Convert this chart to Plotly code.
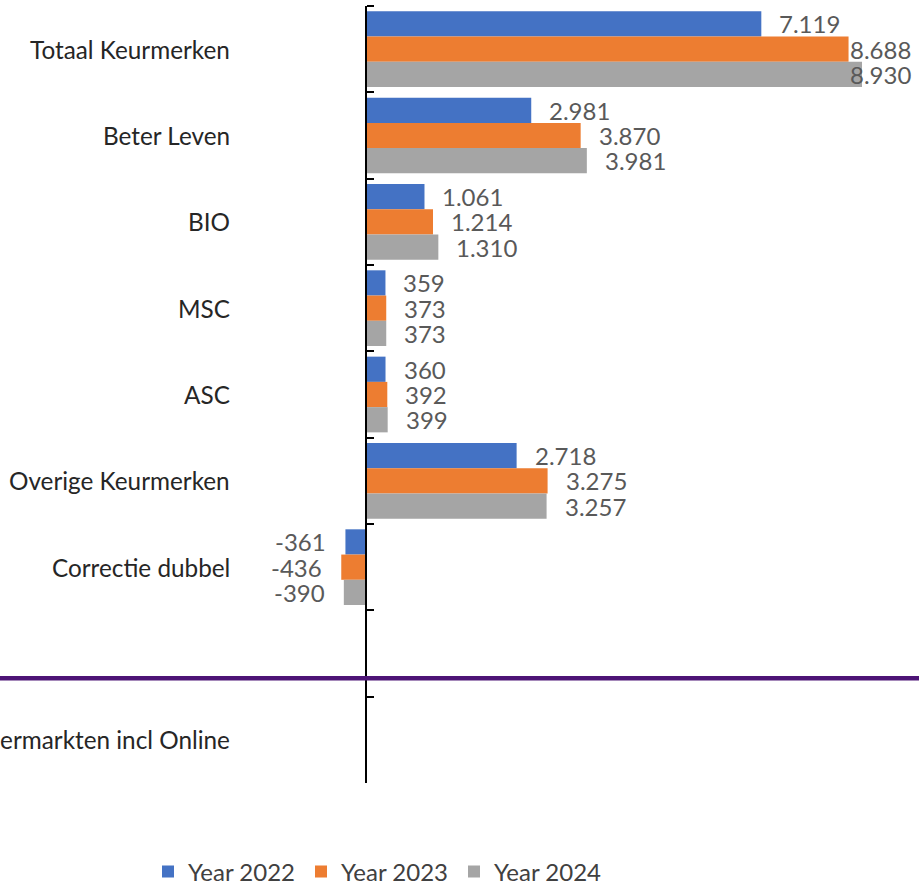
import plotly.graph_objects as go

categories = ["Totaal Keurmerken", "Beter Leven", "BIO", "MSC", "ASC",
              "Overige Keurmerken", "Correctie dubbel", " ", "Supermarkten incl Online"]
series_names = ["Year 2022", "Year 2023", "Year 2024"]
values_2022 = [7119, 2981, 1061, 359, 360, 2718, -361, None, None]
values_2023 = [8688, 3870, 1214, 373, 392, 3275, -436, None, None]
values_2024 = [8930, 3981, 1310, 373, 399, 3257, -390, None, None]
series_values = [values_2022, values_2023, values_2024]
colors = ["#4472C4", "#ED7D31", "#A5A5A5"]

W, H = 919, 885
L, R, T, B = 235, 0, 6, 102
plot_w = W - L - R
plot_h = H - T - B
px_per_unit = 0.0556
zero_px = 365.5
x_min = (L - zero_px) / px_per_unit
x_max = (W - R - zero_px) / px_per_unit
bargap = 0.123
n_cat = len(categories)
slot_px = plot_h / n_cat
bar_px = slot_px * (1 - bargap) / len(series_names)

FONT = "Lato"
LABEL_FONT = dict(family=FONT, size=24, color="#595959")


def fmt(v):
    return f"{v:,}".replace(",", ".")


fig = go.Figure()
for name, vals, col in zip(series_names, series_values, colors):
    fig.add_trace(go.Bar(
        y=categories, x=vals, name=name, orientation="h",
        marker=dict(color=col, line=dict(width=0)),
    ))

annotations = []
# category labels (left of plot area)
for cat in categories:
    annotations.append(dict(x=0, y=cat, xref="paper", yref="y", text=cat,
                            xanchor="right", xshift=-3, showarrow=False,
                            font=dict(family=FONT, size=24.3, color="#262626")))

# data labels
label_right_limit = (913 - zero_px) / px_per_unit
for i, vals in enumerate(series_values):
    yshift = (1 - i) * bar_px
    for cat, v in zip(categories, vals):
        if v is None:
            continue
        txt = fmt(v)
        est_w = len(txt) * 12.6
        if v < 0:
            annotations.append(dict(x=v, y=cat, xref="x", yref="y", text=txt,
                                    xanchor="right", xshift=-17, yshift=yshift,
                                    showarrow=False, font=LABEL_FONT))
        else:
            end_px = zero_px + v * px_per_unit + 15 + est_w
            if end_px > 913:
                annotations.append(dict(x=label_right_limit, y=cat, xref="x", yref="y",
                                        text=txt, xanchor="right", yshift=yshift,
                                        showarrow=False, font=LABEL_FONT))
            else:
                annotations.append(dict(x=v, y=cat, xref="x", yref="y", text=txt,
                                        xanchor="left", xshift=16, yshift=yshift,
                                        showarrow=False, font=LABEL_FONT))

p0 = (0 - x_min) / (x_max - x_min)
line_y = 1 - (678.3 - T) / plot_h

fig.update_layout(
    width=W, height=H,
    margin=dict(l=L, r=R, t=T, b=B, autoexpand=False),
    paper_bgcolor="white", plot_bgcolor="white",
    barmode="group", bargap=bargap, bargroupgap=0,
    font=dict(family=FONT, size=24, color="#404040"),
    xaxis=dict(range=[x_min, x_max], showgrid=False, zeroline=False,
               showticklabels=False, ticks="", showline=False),
    yaxis=dict(type="category", categoryorder="array", categoryarray=categories,
               range=[n_cat - 0.5, -0.5], anchor="free", position=p0, side="right",
               tickson="boundaries", ticks="outside", ticklen=7, tickwidth=2,
               tickcolor="black", showline=True, linewidth=2, linecolor="black",
               showticklabels=False, showgrid=False, zeroline=False, automargin=False),
    legend=dict(orientation="h", xref="container", yref="container",
                x=148 / W, xanchor="left", y=1 - 872 / H, yanchor="middle",
                entrywidth=108, font=dict(family=FONT, size=24, color="#404040"),
                traceorder="normal"),
    annotations=annotations,
    shapes=[dict(type="line", xref="paper", yref="paper", x0=-1, x1=2,
                 y0=line_y, y1=line_y, line=dict(color="#4D1476", width=4.5))],
)

fig.write_html("out.html", config={"displayModeBar": False},
               post_script="document.body.style.margin='0';")
